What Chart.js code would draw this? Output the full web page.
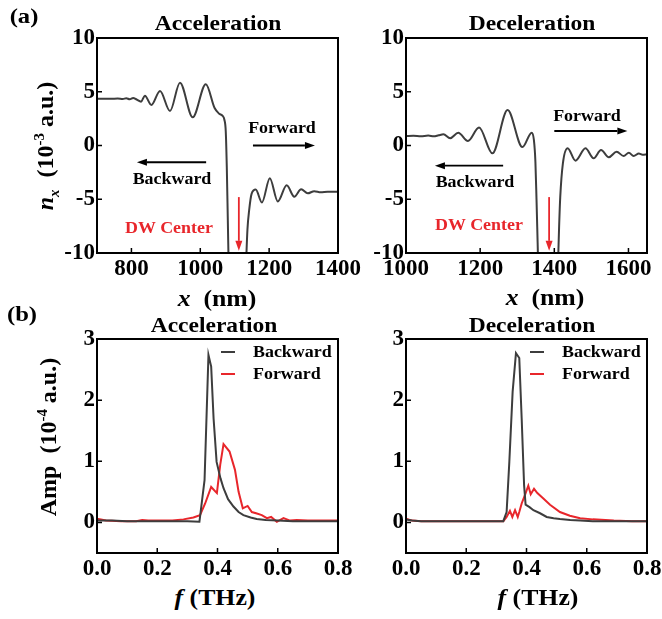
<!DOCTYPE html>
<html>
<head>
<meta charset="utf-8">
<script src="https://cdn.jsdelivr.net/npm/chart.js@4.4.0/dist/chart.umd.min.js"></script>
<style>
    html, body { margin: 0; padding: 0; background: #fff; overflow: hidden; }
    #wrap { position: relative; width: 662px; height: 619px; }
    canvas { position: absolute; }
    .t {
        position: absolute;
        font-family: 'Liberation Serif', 'Times New Roman', serif;
        font-weight: bold;
        color: #000;
        white-space: nowrap;
        line-height: 1;
        transform: translate(-50%, -50%) scaleX(1.12);
        z-index: 2;
    }
    .rot { transform: translate(-50%, -50%) rotate(-90deg); }
    .lg { transform-origin: left center; transform: translateY(-50%) scaleX(1.12); }
    .sw { position: absolute; width: 14px; height: 2px; z-index: 2; }
    i { font-style: italic; }
    sub, sup { font-size: 62%; }
</style>
</head>
<body>
<div id="wrap">
    <canvas id="accN" width="370" height="270" style="left:0;top:10px"></canvas>
    <canvas id="decN" width="340" height="270" style="left:345px;top:10px"></canvas>
    <canvas id="accF" width="370" height="270" style="left:0;top:310px"></canvas>
    <canvas id="decF" width="340" height="270" style="left:345px;top:310px"></canvas>

    <div class="t" style="left:24px;top:16px;font-size:22px">(a)</div>
    <div class="t" style="left:22px;top:314px;font-size:22px">(b)</div>

    <div class="t" style="left:218px;top:23px;font-size:21px">Acceleration</div>
    <div class="t" style="left:532px;top:23px;font-size:21px">Deceleration</div>
    <div class="t" style="left:214px;top:325px;font-size:21px">Acceleration</div>
    <div class="t" style="left:532px;top:325px;font-size:21px">Deceleration</div>

    <div class="t rot" style="left:47px;top:146px;font-size:24px"><i>n<sub>x</sub></i>&nbsp; (10<sup>-3</sup> a.u.)</div>
    <div class="t rot" style="left:47px;top:437px;font-size:24px">Amp&nbsp; (10<sup>-4</sup> a.u.)</div>

    <div class="t" style="left:217px;top:298px;font-size:23px"><i>x</i>&nbsp; (nm)</div>
    <div class="t" style="left:545px;top:297px;font-size:23px"><i>x</i>&nbsp; (nm)</div>
    <div class="t" style="left:215px;top:597px;font-size:23px"><i>f</i>&nbsp;(THz)</div>
    <div class="t" style="left:538px;top:597px;font-size:23px"><i>f</i>&nbsp;(THz)</div>

    <div class="t" style="left:172px;top:179px;font-size:16px">Backward</div>
    <div class="t" style="left:282px;top:128px;font-size:16px">Forward</div>
    <div class="t" style="left:169px;top:228px;font-size:16px;color:#e8262b">DW Center</div>
    <div class="t" style="left:475px;top:182px;font-size:16px">Backward</div>
    <div class="t" style="left:587px;top:116px;font-size:16px">Forward</div>
    <div class="t" style="left:479px;top:225px;font-size:16px;color:#e8262b">DW Center</div>

    <div class="sw" style="left:221px;top:351px;background:#3d3d3d"></div>
    <div class="t lg" style="left:253px;top:352px;font-size:16px">Backward</div>
    <div class="sw" style="left:221px;top:373px;background:#e8262b"></div>
    <div class="t lg" style="left:253px;top:374px;font-size:16px">Forward</div>
    <div class="sw" style="left:530px;top:351px;background:#3d3d3d"></div>
    <div class="t lg" style="left:562px;top:352px;font-size:16px">Backward</div>
    <div class="sw" style="left:530px;top:373px;background:#e8262b"></div>
    <div class="t lg" style="left:562px;top:374px;font-size:16px">Forward</div>
</div>

<script>
// (a) magnetisation profile n_x, 10^-3 a.u.
const accPos = [700, 720, 740, 760, 775, 785, 795, 805, 815, 828, 839, 858, 883, 912, 941, 978, 1016, 1042, 1055, 1065,
    1070, 1074, 1077, 1080, 1083, 1090, 1128, 1133, 1137, 1142, 1149, 1161, 1179, 1202, 1225, 1251, 1273, 1293, 1312, 1331,
    1350, 1370, 1400];
const accNx = [4.35, 4.36, 4.34, 4.37, 4.32, 4.40, 4.30, 4.42, 4.28, 4.08, 4.63, 3.77, 5.07, 3.21, 5.84, 2.62, 5.70, 3.46, 2.95, 2.75,
    2.4, 1.3, -2, -7, -12, -16, -16, -11, -7.8, -6.0, -4.5, -4.1, -5.3, -3.05, -5.2, -3.7, -4.76, -4.07, -4.45, -4.25,
    -4.35, -4.3, -4.3];
const decPos = [1000, 1020, 1040, 1060, 1075, 1088, 1101, 1119, 1141, 1167, 1197, 1233, 1274, 1314, 1339, 1345, 1349, 1352, 1355, 1358,
    1365, 1404, 1410, 1413, 1416, 1423, 1436, 1457, 1484, 1506, 1526, 1547, 1568, 1587, 1601, 1614, 1628, 1638, 1650];
const decNx = [0.88, 0.9, 0.86, 0.92, 0.85, 0.95, 1.04, 0.67, 1.19, 0.42, 1.68, -0.73, 3.3, -0.15, 1.19, 0.5, -1.5, -5, -9, -13,
    -16, -16, -11, -7.5, -4.8, -1.7, -0.26, -1.41, -0.26, -1.19, -0.42, -1.1, -0.58, -0.98, -0.67, -0.98, -0.75, -0.85, -0.82];

// (b) spectra, 10^-4 a.u.
const accBackF = [0, 0.05, 0.1, 0.15, 0.2, 0.25, 0.3, 0.34, 0.357, 0.37, 0.379, 0.387, 0.397, 0.41, 0.42, 0.435, 0.453, 0.47, 0.486,
    0.51, 0.53, 0.56, 0.6, 0.65, 0.7, 0.75, 0.8];
const accBackAmp = [0.03, 0.03, 0.02, 0.02, 0.02, 0.02, 0.02, 0.01, 0.69, 2.74, 2.55, 1.70, 0.99, 0.72, 0.56, 0.38, 0.26, 0.17, 0.12,
    0.08, 0.055, 0.04, 0.03, 0.02, 0.02, 0.02, 0.02];
const accFwdF = [0, 0.03, 0.08, 0.13, 0.15, 0.17, 0.2, 0.25, 0.287, 0.32, 0.342, 0.359, 0.379, 0.398, 0.409, 0.42, 0.44, 0.458, 0.47,
    0.484, 0.5, 0.514, 0.528, 0.547, 0.564, 0.578, 0.597, 0.619, 0.641, 0.663, 0.7, 0.75, 0.8];
const accFwdAmp = [0.06, 0.03, 0.02, 0.02, 0.04, 0.03, 0.03, 0.03, 0.05, 0.08, 0.12, 0.31, 0.58, 0.48, 0.94, 1.28, 1.16, 0.86, 0.50,
    0.23, 0.27, 0.17, 0.15, 0.12, 0.07, 0.09, 0.01, 0.07, 0.03, 0.04, 0.03, 0.03, 0.03];
const decBackF = [0, 0.02, 0.05, 0.1, 0.15, 0.2, 0.25, 0.3, 0.323, 0.334, 0.343, 0.354, 0.365, 0.376, 0.384, 0.392, 0.397, 0.41,
    0.423, 0.445, 0.467, 0.49, 0.511, 0.545, 0.578, 0.62, 0.7, 0.8];
const decBackAmp = [0.05, 0.03, 0.02, 0.02, 0.02, 0.02, 0.02, 0.02, 0.02, 0.17, 0.99, 2.14, 2.77, 2.69, 1.70, 0.61, 0.29, 0.25,
    0.2, 0.15, 0.09, 0.07, 0.055, 0.04, 0.03, 0.02, 0.02, 0.02];
const decFwdF = [0, 0.02, 0.05, 0.1, 0.2, 0.3, 0.323, 0.334, 0.345, 0.353, 0.362, 0.371, 0.376, 0.384, 0.395, 0.406, 0.414, 0.425,
    0.436, 0.456, 0.478, 0.511, 0.544, 0.578, 0.62, 0.69, 0.75, 0.8];
const decFwdAmp = [0.06, 0.03, 0.02, 0.02, 0.02, 0.02, 0.02, 0.09, 0.19, 0.09, 0.2, 0.09, 0.17, 0.31, 0.45, 0.60, 0.46, 0.55,
    0.48, 0.39, 0.29, 0.17, 0.11, 0.07, 0.05, 0.03, 0.02, 0.02];

// tick labels
const accPosTicks = [800, 1000, 1200, 1400];
const decPosTicks = [1000, 1200, 1400, 1600];
const nxTicks = [-10, -5, 0, 5, 10];
const freqTicks = [0, 0.2, 0.4, 0.6, 0.8];
const ampTicks = [0, 1, 2, 3];

const ink = '#3d3d3d';
const red = '#e8262b';
const tickFont = { family: "'Liberation Serif', 'Times New Roman', serif", size: 23, weight: 'bold' };

function pairs(xs, ys) {
    return xs.map((v, i) => ({ x: v, y: ys[i] }));
}

// box, inward ticks and the annotation arrows
const framePlugin = {
    id: 'frame',
    afterDatasetsDraw(chart, args, opts) {
        const { ctx, chartArea: a, scales: { x, y } } = chart;
        ctx.save();
        (opts.arrows || []).forEach(ar => {
            const x1 = x.getPixelForValue(ar.from[0]), y1 = y.getPixelForValue(ar.from[1]);
            const x2 = x.getPixelForValue(ar.to[0]), y2 = y.getPixelForValue(ar.to[1]);
            const ang = Math.atan2(y2 - y1, x2 - x1);
            const hl = 10, hw = 3.5;
            const bx = x2 - hl * Math.cos(ang), by = y2 - hl * Math.sin(ang);
            ctx.strokeStyle = ar.color;
            ctx.fillStyle = ar.color;
            ctx.lineWidth = 1.8;
            ctx.beginPath();
            ctx.moveTo(x1, y1);
            ctx.lineTo(bx, by);
            ctx.stroke();
            ctx.beginPath();
            ctx.moveTo(x2, y2);
            ctx.lineTo(bx + hw * Math.sin(ang), by - hw * Math.cos(ang));
            ctx.lineTo(bx - hw * Math.sin(ang), by + hw * Math.cos(ang));
            ctx.closePath();
            ctx.fill();
        });
        ctx.strokeStyle = '#000';
        ctx.lineWidth = 1.5;
        ctx.beginPath();
        x.ticks.forEach(t => {
            const p = x.getPixelForValue(t.value);
            ctx.moveTo(p, a.bottom);
            ctx.lineTo(p, a.bottom - 5);
        });
        y.ticks.forEach(t => {
            const p = y.getPixelForValue(t.value);
            ctx.moveTo(a.left, p);
            ctx.lineTo(a.left + 5, p);
        });
        ctx.stroke();
        ctx.lineWidth = 2;
        ctx.strokeRect(a.left, a.top, a.right - a.left, a.bottom - a.top);
        ctx.restore();
    }
};

function axis(min, max, values, fmt, fitFn) {
    return {
        type: 'linear',
        min: min,
        max: max,
        grid: { display: false, drawTicks: false },
        border: { display: false },
        ticks: { font: tickFont, color: '#000', padding: 2, maxRotation: 0, autoSkip: false, callback: fmt },
        afterBuildTicks: s => { s.ticks = values.map(v => ({ value: v })); },
        afterFit: fitFn
    };
}

function makeChart(id, datasets, o) {
    const ctx = document.getElementById(id).getContext('2d');
    return new Chart(ctx, {
        type: 'line',
        data: { datasets: datasets },
        options: {
            responsive: false,
            animation: false,
            layout: { padding: { top: o.padTop, right: o.padRight, left: 0, bottom: 0 } },
            elements: { point: { radius: 0 } },
            plugins: { legend: { display: false }, tooltip: { enabled: false }, frame: { arrows: o.arrows || [] } },
            scales: {
                x: axis(o.xMin, o.xMax, o.xTicks, o.xFmt, s => { s.height = o.xH; }),
                y: axis(o.yMin, o.yMax, o.yTicks, v => String(v), s => { s.width = o.yW; })
            }
        },
        plugins: [framePlugin]
    });
}

const smooth = { borderColor: ink, borderWidth: 2, cubicInterpolationMode: 'monotone', fill: false };
const plain = v => String(v);
const oneDp = v => v.toFixed(1);

makeChart('accN', [Object.assign({ label: 'n_x', data: pairs(accPos, accNx) }, smooth)], {
    xMin: 700, xMax: 1400, xTicks: accPosTicks, xFmt: plain,
    yMin: -10, yMax: 10, yTicks: nxTicks,
    padTop: 28, padRight: 32, xH: 27, yW: 97,
    arrows: [
        { from: [1112, -4.8], to: [1112, -9.8], color: red },
        { from: [1017, -1.56], to: [816, -1.56], color: '#000' },
        { from: [1153, 0], to: [1333, 0], color: '#000' }
    ]
});

makeChart('decN', [Object.assign({ label: 'n_x', data: pairs(decPos, decNx) }, smooth)], {
    xMin: 1000, xMax: 1650, xTicks: decPosTicks, xFmt: plain,
    yMin: -10, yMax: 10, yTicks: nxTicks,
    padTop: 28, padRight: 38, xH: 27, yW: 61,
    arrows: [
        { from: [1386, -4.8], to: [1386, -9.8], color: red },
        { from: [1262, -1.88], to: [1078, -1.88], color: '#000' },
        { from: [1400, 1.35], to: [1597, 1.35], color: '#000' }
    ]
});

makeChart('accF', [
    { label: 'Backward', data: pairs(accBackF, accBackAmp), borderColor: ink, borderWidth: 2, tension: 0 },
    { label: 'Forward', data: pairs(accFwdF, accFwdAmp), borderColor: red, borderWidth: 2, tension: 0 }
], {
    xMin: 0, xMax: 0.8, xTicks: freqTicks, xFmt: oneDp,
    yMin: -0.5, yMax: 3, yTicks: ampTicks,
    padTop: 29, padRight: 32, xH: 27, yW: 97
});

makeChart('decF', [
    { label: 'Backward', data: pairs(decBackF, decBackAmp), borderColor: ink, borderWidth: 2, tension: 0 },
    { label: 'Forward', data: pairs(decFwdF, decFwdAmp), borderColor: red, borderWidth: 2, tension: 0 }
], {
    xMin: 0, xMax: 0.8, xTicks: freqTicks, xFmt: oneDp,
    yMin: -0.5, yMax: 3, yTicks: ampTicks,
    padTop: 29, padRight: 38, xH: 27, yW: 61
});
</script>
</body>
</html>
